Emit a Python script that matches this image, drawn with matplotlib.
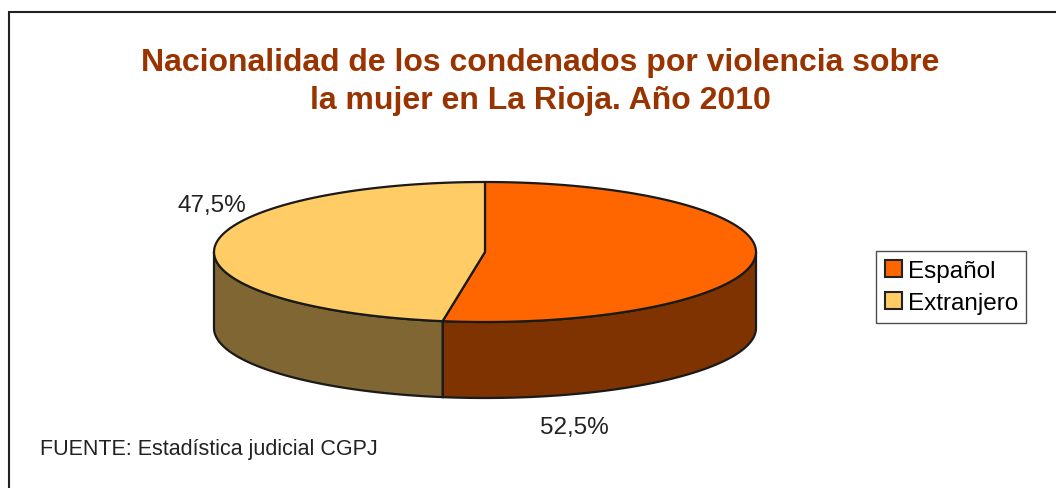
import numpy as np
import matplotlib.pyplot as plt
from matplotlib.patches import Polygon, Patch

plt.rcParams['font.family'] = ['Liberation Sans', 'DejaVu Sans']

# data
categories = ['Español', 'Extranjero']
values = [52.5, 47.5]
labels = ['52,5%', '47,5%']
top_colors = ['#FF6600', '#FFCC66']
side_colors = ['#7F3300', '#806633']

title = 'Nacionalidad de los condenados por violencia sobre\nla mujer en La Rioja. Año 2010'
source = 'FUENTE: Estadística judicial CGPJ'

W, H = 1056, 489
fig = plt.figure(figsize=(W / 100, H / 100), dpi=100)
ax = fig.add_axes([0, 0, 1, 1])
ax.set_xlim(0, W)
ax.set_ylim(H, 0)
ax.axis('off')

# pie geometry in pixel units (y grows downward)
cx, cy = 485, 253
a, b = 271, 70
depth = 76


def rim(t0, t1, n=120):
    t = np.linspace(t0, t1, n)
    return cx + a * np.sin(t), cy - b * np.cos(t)


fracs = np.array(values) / sum(values)
bounds = np.concatenate([[0], np.cumsum(fracs)]) * 2 * np.pi

# side walls (only the front half is visible)
for i in range(len(values)):
    t0 = max(bounds[i], np.pi / 2)
    t1 = min(bounds[i + 1], 3 * np.pi / 2)
    if t1 <= t0:
        continue
    x, y = rim(t0, t1)
    px = np.concatenate([x, x[::-1]])
    py = np.concatenate([y, y[::-1] + depth])
    ax.add_patch(Polygon(np.column_stack([px, py]), closed=True,
                         facecolor=side_colors[i], edgecolor='#1a1a1a', lw=1.6))

# top faces
for i in range(len(values)):
    x, y = rim(bounds[i], bounds[i + 1])
    px = np.concatenate([[cx], x])
    py = np.concatenate([[cy], y])
    ax.add_patch(Polygon(np.column_stack([px, py]), closed=True,
                         facecolor=top_colors[i], edgecolor='#1a1a1a', lw=1.6,
                         joinstyle='round'))

# value labels
ax.text(574, 428, labels[0], fontsize=17.5, ha='center', va='center', color='#222222')
ax.text(212, 206, labels[1], fontsize=17.5, ha='center', va='center', color='#222222')

ax.text(540, 82, title, fontsize=23, fontweight='bold', color='#993300',
        ha='center', va='center', linespacing=1.32)
ax.text(40, 450, source, fontsize=15.5, ha='left', va='center', color='#222222')

# chart frame (left and top edges)
ax.plot([9, 9, W], [H, 13, 13], color='#222222', lw=1.5, solid_joinstyle='miter')

handles = [Patch(facecolor=c, edgecolor='#222222', lw=1.5) for c in top_colors]
leg = ax.legend(handles, categories, loc='upper left',
                bbox_to_anchor=(876 / W, 1 - 252 / H), fontsize=17.5,
                frameon=True, fancybox=False, edgecolor='#222222',
                handlelength=0.7, handleheight=0.7, handletextpad=0.25,
                borderpad=0.35, labelspacing=0.45, borderaxespad=0)
leg.get_frame().set_linewidth(1.0)

fig.savefig('out.png', dpi=100)
